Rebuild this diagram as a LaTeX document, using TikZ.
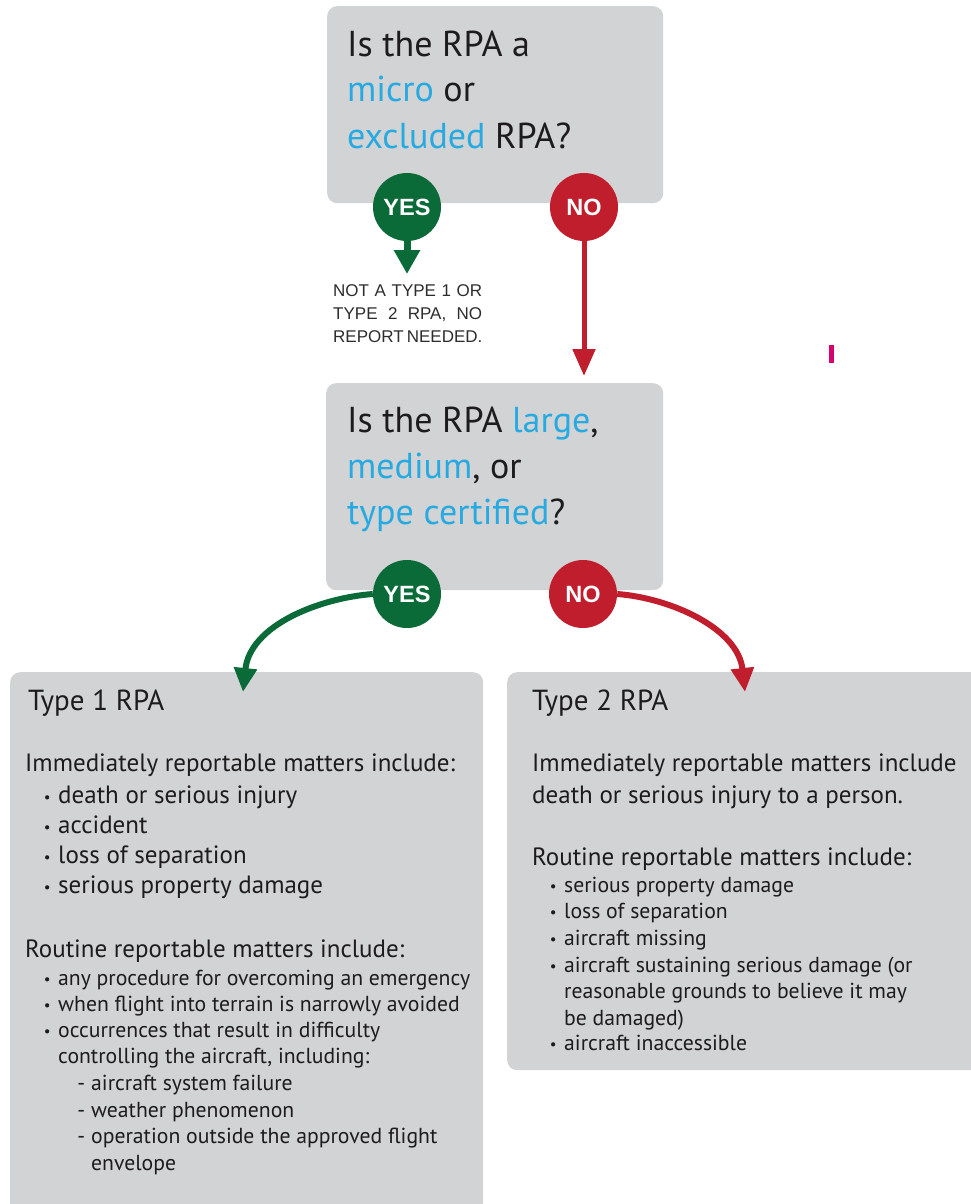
\documentclass[tikz,border=0pt]{standalone}
\usepackage{fontspec}
\setmainfont{PT Sans}
\newfontfamily\arialf{Liberation Sans}
\usetikzlibrary{arrows.meta}
\definecolor{boxgray}{RGB}{209,211,212}
\definecolor{ygreen}{RGB}{10,106,56}
\definecolor{nred}{RGB}{193,30,45}
\definecolor{qblue}{RGB}{39,170,225}
\definecolor{ink}{RGB}{30,27,28}
\definecolor{smallink}{RGB}{45,45,45}
\definecolor{pinkmark}{RGB}{214,0,110}
\newcommand\qfont{\fontsize{36}{40}\selectfont}
\newcommand\hfont{\fontsize{29}{34}\selectfont}
\newcommand\bfont{\fontsize{25}{28}\selectfont}
\newcommand\sfont{\fontsize{21.7}{24}\selectfont}
\newcommand\nfont{\arialf\fontsize{17}{20}\selectfont}
\newcommand\cfont{\arialf\bfseries\fontsize{23.5}{24}\selectfont}
\newcommand\bu[1]{\makebox[8pt][c]{\raisebox{1pt}{\fontsize{15}{15}\selectfont•}}\hspace{7pt}#1}
\newcommand\da[1]{\makebox[6pt][c]{-}\hspace{7pt}#1}
\newcommand\hl[1]{\textcolor{qblue}{#1}}
\tikzset{
  gbox/.style={fill=boxgray, rounded corners=10pt, inner sep=0pt, anchor=north west},
  tx/.style={anchor=base west, inner sep=0pt, text=ink},
  yesc/.style={circle, fill=ygreen, minimum size=68pt, inner sep=0pt, text=white, font=\cfont},
  noc/.style={circle, fill=nred, minimum size=68pt, inner sep=0pt, text=white, font=\cfont},
  garr/.style={draw=ygreen, line width=7pt, -{Triangle[width=25pt,length=24pt]}},
  rarr/.style={draw=nred, line width=5pt, -{Triangle[width=22pt,length=27pt]}},
  garrc/.style={draw=ygreen, line width=6pt, -{Triangle[width=22pt,length=24pt]}},
  rarrc/.style={draw=nred, line width=6pt, -{Triangle[width=22pt,length=24pt]}},
}
\begin{document}
\begin{tikzpicture}[x=1pt,y=-1pt]
\useasboundingbox (0,0) rectangle (970,1204);
\fill[white] (0,0) rectangle (970,1204);

% boxes
\node[gbox, minimum width=336pt, minimum height=197pt] (q1) at (327,6) {};
\node[gbox, minimum width=337pt, minimum height=207pt] (q2) at (326,383) {};
\node[gbox, minimum width=473pt, minimum height=560pt] (t1) at (10,672) {};
\node[gbox, minimum width=490pt, minimum height=398pt] (t2) at (507,672) {};

% question 1
\node[tx, font=\qfont] (q1a) at (347,57) {Is the RPA a};
\node[tx, font=\qfont] (q1b) at (347,102) {\hl{micro} or};
\node[tx, font=\qfont] (q1c) at (347,148) {\hl{excluded} RPA?};

% question 2
\node[tx, font=\qfont] (q2a) at (347,432) {Is the RPA \hl{large},};
\node[tx, font=\qfont] (q2b) at (347,478) {\hl{medium}, or};
\node[tx, font=\qfont] (q2c) at (347,524) {\hl{type certified}?};

% pink mark
\fill[pinkmark] (829,345) rectangle (834,363);

% coordinates for arrow tips
\coordinate (g1tip) at (407,274);
\coordinate (r1tip) at (584,376);
\coordinate (g2tip) at (243,692);
\coordinate (r2tip) at (745,692);

% decision circles
\node[yesc] (yes1) at (407,207) {YES};
\node[noc] (no1) at (584,207) {NO};
\node[yesc] (yes2) at (407,594) {YES};
\node[noc] (no2) at (583,594) {NO};

% arrows
\draw[garr] (yes1) -- (g1tip);
\draw[rarr] (no1) -- (r1tip);
\draw[garrc] (yes2.west) .. controls (320,598) and (250,625) .. (g2tip);
\draw[rarrc] (no2.east) .. controls (670,598) and (738,628) .. (r2tip);

% small note
\node[tx, font=\nfont, text=smallink] (n1) at (333,296) {\makebox[149pt][s]{NOT A TYPE 1 OR}};
\node[tx, font=\nfont, text=smallink] (n2) at (333,319) {\makebox[149pt][s]{TYPE 2 RPA, NO}};
\node[tx, font=\nfont, text=smallink] (n3) at (333,342) {\makebox[149pt][s]{REPORT NEEDED.}};

% Type 1 box
\node[tx, font=\hfont] (a0) at (28,710) {Type 1 RPA};
\node[tx, font=\bfont] (a1) at (25,771) {Immediately reportable matters include:};
\node[tx, font=\bfont] (a2) at (43,803) {\bu{death or serious injury}};
\node[tx, font=\bfont] (a3) at (43,833) {\bu{accident}};
\node[tx, font=\bfont] (a4) at (43,863) {\bu{loss of separation}};
\node[tx, font=\bfont] (a5) at (43,893) {\bu{serious property damage}};
\node[tx, font=\bfont] (a6) at (25,957) {Routine reportable matters include:};
\node[tx, font=\sfont] (a7) at (43,985) {\bu{any procedure for overcoming an emergency}};
\node[tx, font=\sfont] (a8) at (43,1011) {\bu{when flight into terrain is narrowly avoided}};
\node[tx, font=\sfont] (a9) at (43,1037) {\bu{occurrences that result in difficulty}};
\node[tx, font=\sfont] (a10) at (58,1063) {controlling the aircraft, including:};
\node[tx, font=\sfont] (a11) at (78,1090) {\da{aircraft system failure}};
\node[tx, font=\sfont] (a12) at (78,1117) {\da{weather phenomenon}};
\node[tx, font=\sfont] (a13) at (78,1143) {\da{operation outside the approved flight}};
\node[tx, font=\sfont] (a14) at (91,1170) {envelope};

% Type 2 box
\node[tx, font=\hfont] (b0) at (532,710) {Type 2 RPA};
\node[tx, font=\bfont] (b1) at (532,771) {Immediately reportable matters include};
\node[tx, font=\bfont] (b2) at (532,803) {death or serious injury to a person.};
\node[tx, font=\bfont] (b3) at (532,865) {Routine reportable matters include:};
\node[tx, font=\sfont] (b4) at (549,892) {\bu{serious property damage}};
\node[tx, font=\sfont] (b5) at (549,918) {\bu{loss of separation}};
\node[tx, font=\sfont] (b6) at (549,945) {\bu{aircraft missing}};
\node[tx, font=\sfont] (b7) at (549,972) {\bu{aircraft sustaining serious damage (or}};
\node[tx, font=\sfont] (b8) at (564,998) {reasonable grounds to believe it may};
\node[tx, font=\sfont] (b9) at (564,1025) {be damaged)};
\node[tx, font=\sfont] (b10) at (549,1050) {\bu{aircraft inaccessible}};
\end{tikzpicture}
\end{document}
